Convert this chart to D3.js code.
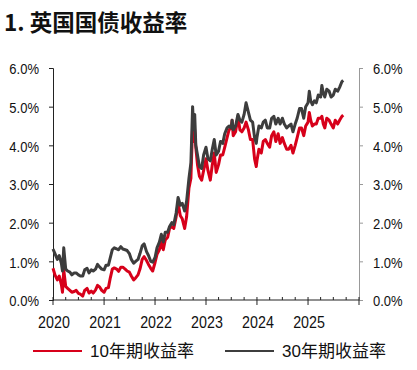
<!DOCTYPE html>
<html>
<head>
<meta charset="utf-8">
<script src="https://cdn.jsdelivr.net/npm/d3@7"></script>
<style>
  body { margin: 0; background: #fff; }
  text { font-family: "Liberation Sans", Arial, "Noto Sans CJK SC", sans-serif; fill: #111; }
</style>
</head>
<body>
<div id="wrapper"></div>
<script>
// dates shared by both series
const dates = [
  "2020-01-01","2020-01-15","2020-02-01","2020-02-15","2020-03-01","2020-03-09","2020-03-18","2020-04-01","2020-04-15","2020-05-01","2020-05-15","2020-06-01","2020-06-15","2020-07-01","2020-07-15","2020-08-01","2020-08-15","2020-09-01","2020-09-15","2020-10-01","2020-10-15","2020-11-01","2020-11-15","2020-12-01","2020-12-15",
  "2021-01-01","2021-01-15","2021-02-01","2021-02-15","2021-03-01","2021-03-15","2021-04-01","2021-04-15","2021-05-01","2021-05-15","2021-06-01","2021-06-15","2021-07-01","2021-07-15","2021-08-01","2021-08-15","2021-09-01","2021-09-15","2021-10-01","2021-10-15","2021-11-01","2021-11-15","2021-12-01","2021-12-15",
  "2022-01-01","2022-01-15","2022-02-01","2022-02-15","2022-03-01","2022-03-15","2022-04-01","2022-04-15","2022-05-01","2022-05-15","2022-06-01","2022-06-15","2022-07-01","2022-07-15","2022-08-01","2022-08-15","2022-09-01","2022-09-15","2022-09-27","2022-10-05","2022-10-12","2022-10-20","2022-11-01","2022-11-15","2022-12-01","2022-12-15",
  "2023-01-01","2023-01-15","2023-02-01","2023-02-15","2023-03-01","2023-03-15","2023-04-01","2023-04-15","2023-05-01","2023-05-15","2023-06-01","2023-06-15","2023-07-01","2023-07-07","2023-07-15","2023-08-01","2023-08-18","2023-09-01","2023-09-15","2023-10-01","2023-10-15","2023-11-01","2023-11-15","2023-12-01","2023-12-15","2023-12-27",
  "2024-01-01","2024-01-15","2024-02-01","2024-02-15","2024-03-01","2024-03-15","2024-04-01","2024-04-15","2024-05-01","2024-05-15","2024-06-01","2024-06-15","2024-07-01","2024-07-15","2024-08-01","2024-08-15","2024-09-01","2024-09-15","2024-10-01","2024-10-15","2024-11-01","2024-11-15","2024-12-01","2024-12-15",
  "2025-01-01","2025-01-10","2025-01-20","2025-02-01","2025-02-15","2025-03-01","2025-03-15","2025-04-01","2025-04-10","2025-04-20","2025-05-01","2025-05-15","2025-06-01","2025-06-15","2025-07-01","2025-07-15","2025-08-01","2025-08-15","2025-09-01","2025-09-10"
];

const y10 = [
  0.82,0.65,0.52,0.62,0.40,0.20,0.78,0.35,0.30,0.25,0.20,0.22,0.25,0.17,0.15,0.10,0.25,0.30,0.18,0.23,0.18,0.26,0.38,0.33,0.25,
  0.20,0.30,0.32,0.58,0.80,0.83,0.80,0.74,0.85,0.85,0.80,0.75,0.72,0.62,0.52,0.57,0.65,0.80,1.05,1.12,1.02,0.92,0.82,0.75,
  0.97,1.18,1.30,1.50,1.30,1.55,1.62,1.85,1.90,1.85,2.15,2.50,2.18,2.10,1.85,2.15,2.90,3.15,4.50,4.10,4.40,3.95,3.50,3.20,3.10,3.35,
  3.65,3.35,3.10,3.50,3.80,3.30,3.50,3.75,3.75,3.95,4.20,4.40,4.45,4.65,4.25,4.35,4.75,4.40,4.35,4.45,4.60,4.40,4.15,4.15,3.65,3.45,
  3.60,3.90,3.80,4.10,4.15,4.05,3.95,4.25,4.35,4.10,4.30,4.05,4.20,4.05,3.90,3.90,4.00,3.80,4.00,4.20,4.45,4.45,4.25,4.50,
  4.60,4.85,4.65,4.50,4.55,4.55,4.70,4.70,4.75,4.55,4.45,4.70,4.65,4.55,4.45,4.65,4.55,4.65,4.75,4.78
];

const y30 = [
  1.32,1.20,1.05,1.15,0.95,0.75,1.35,0.80,0.75,0.72,0.65,0.70,0.70,0.65,0.62,0.62,0.78,0.82,0.70,0.78,0.75,0.80,0.92,0.85,0.80,
  0.78,0.90,0.90,1.10,1.30,1.35,1.32,1.30,1.38,1.32,1.30,1.28,1.20,1.05,0.95,1.00,1.05,1.20,1.40,1.45,1.25,1.15,1.00,0.98,
  1.10,1.35,1.50,1.70,1.50,1.75,1.75,1.90,2.00,1.95,2.25,2.65,2.45,2.50,2.30,2.55,3.15,3.55,5.00,4.40,4.80,4.00,3.75,3.45,3.40,3.75,
  3.95,3.65,3.60,3.90,4.15,3.75,3.85,4.10,4.05,4.30,4.45,4.50,4.45,4.65,4.40,4.50,4.80,4.65,4.60,4.80,5.10,4.85,4.65,4.60,4.20,4.05,
  4.20,4.50,4.45,4.60,4.65,4.45,4.45,4.70,4.75,4.55,4.70,4.55,4.70,4.55,4.45,4.50,4.55,4.35,4.55,4.70,4.95,4.95,4.70,5.00,
  5.10,5.40,5.15,5.05,5.15,5.10,5.30,5.25,5.55,5.35,5.25,5.45,5.40,5.25,5.30,5.45,5.40,5.50,5.65,5.68
];

const yearTicks = ["2020","2021","2022","2023","2024","2025"];
const yTicks = [0, 1, 2, 3, 4, 5, 6];
const seriesNames = ["10年期收益率", "30年期收益率"];
const seriesColors = ["#d7001a", "#3d3d3d"];

const dim = { width: 417, height: 370, left: 53, right: 359, top: 68, bottom: 300 };

const parse = d3.timeParse("%Y-%m-%d");
const pts10 = dates.map((d, i) => ({ date: parse(d), v: y10[i] }));
const pts30 = dates.map((d, i) => ({ date: parse(d), v: y30[i] }));

const svg = d3.select("#wrapper").append("svg")
    .attr("width", dim.width)
    .attr("height", dim.height);

svg.append("text")
    .attr("x", 4).attr("y", 31)
    .style("font-family", "'Noto Sans CJK SC', 'Liberation Sans', sans-serif")
    .style("font-weight", "bold")
    .style("font-size", "22.5px")
    .text("1. 英国国债收益率");

const xScale = d3.scaleTime()
    .domain([parse("2020-01-01"), parse("2026-01-01")])
    .range([dim.left, dim.right]);

const yScale = d3.scaleLinear()
    .domain([0, 6])
    .range([dim.bottom, dim.top]);

const fmt = d => d.toFixed(1) + "%";
const sx = 0.84;

// left axis
const gL = svg.append("g")
    .attr("transform", `translate(${dim.left},0)`)
    .call(d3.axisLeft(yScale).tickValues(yTicks).tickFormat(fmt).tickSize(4).tickPadding(10));
gL.select(".domain").attr("stroke", "#222");
gL.selectAll(".tick line").attr("stroke", "#222");
gL.selectAll(".tick text")
    .attr("x", -14 / sx).attr("dy", "0.38em")
    .attr("transform", `scale(${sx},1)`)
    .style("font-size", "15.5px").attr("fill", "#111");

// right axis
const gR = svg.append("g")
    .attr("transform", `translate(${dim.right},0)`)
    .call(d3.axisRight(yScale).tickValues(yTicks).tickFormat(fmt).tickSize(4).tickPadding(10));
gR.select(".domain").attr("stroke", "#999");
gR.selectAll(".tick line").attr("stroke", "#999");
gR.selectAll(".tick text")
    .attr("x", 14 / sx).attr("dy", "0.38em")
    .attr("transform", `scale(${sx},1)`)
    .style("font-size", "15.5px").attr("fill", "#111");

// bottom axis: quarterly minor ticks up, yearly major ticks crossing
const gB = svg.append("g").attr("transform", `translate(0,${dim.bottom})`);
gB.append("line")
    .attr("x1", dim.left).attr("x2", dim.right)
    .attr("stroke", "#222");
const quarters = d3.timeMonth.every(3).range(parse("2020-01-01"), parse("2026-01-02"));
gB.selectAll(".minor").data(quarters).join("line")
    .attr("class", "minor")
    .attr("x1", d => xScale(d)).attr("x2", d => xScale(d))
    .attr("y1", -3).attr("y2", d => d.getMonth() === 0 ? 5 : 0)
    .attr("stroke", "#222");
gB.selectAll(".yl").data(yearTicks).join("text")
    .attr("class", "yl")
    .attr("transform", d => `translate(${xScale(parse(d + "-01-01")) + 1},28) scale(${sx},1)`)
    .attr("text-anchor", "middle")
    .style("font-size", "17px")
    .text(d => d);

const line = d3.line()
    .x(d => xScale(d.date))
    .y(d => yScale(d.v));

svg.append("path")
    .attr("d", line(pts10))
    .attr("fill", "none")
    .attr("stroke", seriesColors[0])
    .attr("stroke-width", 3)
    .attr("stroke-linejoin", "round");

svg.append("path")
    .attr("d", line(pts30))
    .attr("fill", "none")
    .attr("stroke", seriesColors[1])
    .attr("stroke-width", 3)
    .attr("stroke-linejoin", "round");

// legend
const legX = [33, 225];
const leg = svg.selectAll(".leg").data(seriesNames).join("g")
    .attr("class", "leg")
    .attr("transform", (d, i) => `translate(${legX[i]},351)`);
leg.append("line")
    .attr("x1", 0).attr("x2", 49)
    .attr("stroke", (d, i) => seriesColors[i])
    .attr("stroke-width", 2.2);
leg.append("text")
    .attr("x", 57).attr("dy", "0.36em")
    .style("font-size", "17px")
    .text(d => d);
</script>
</body>
</html>
